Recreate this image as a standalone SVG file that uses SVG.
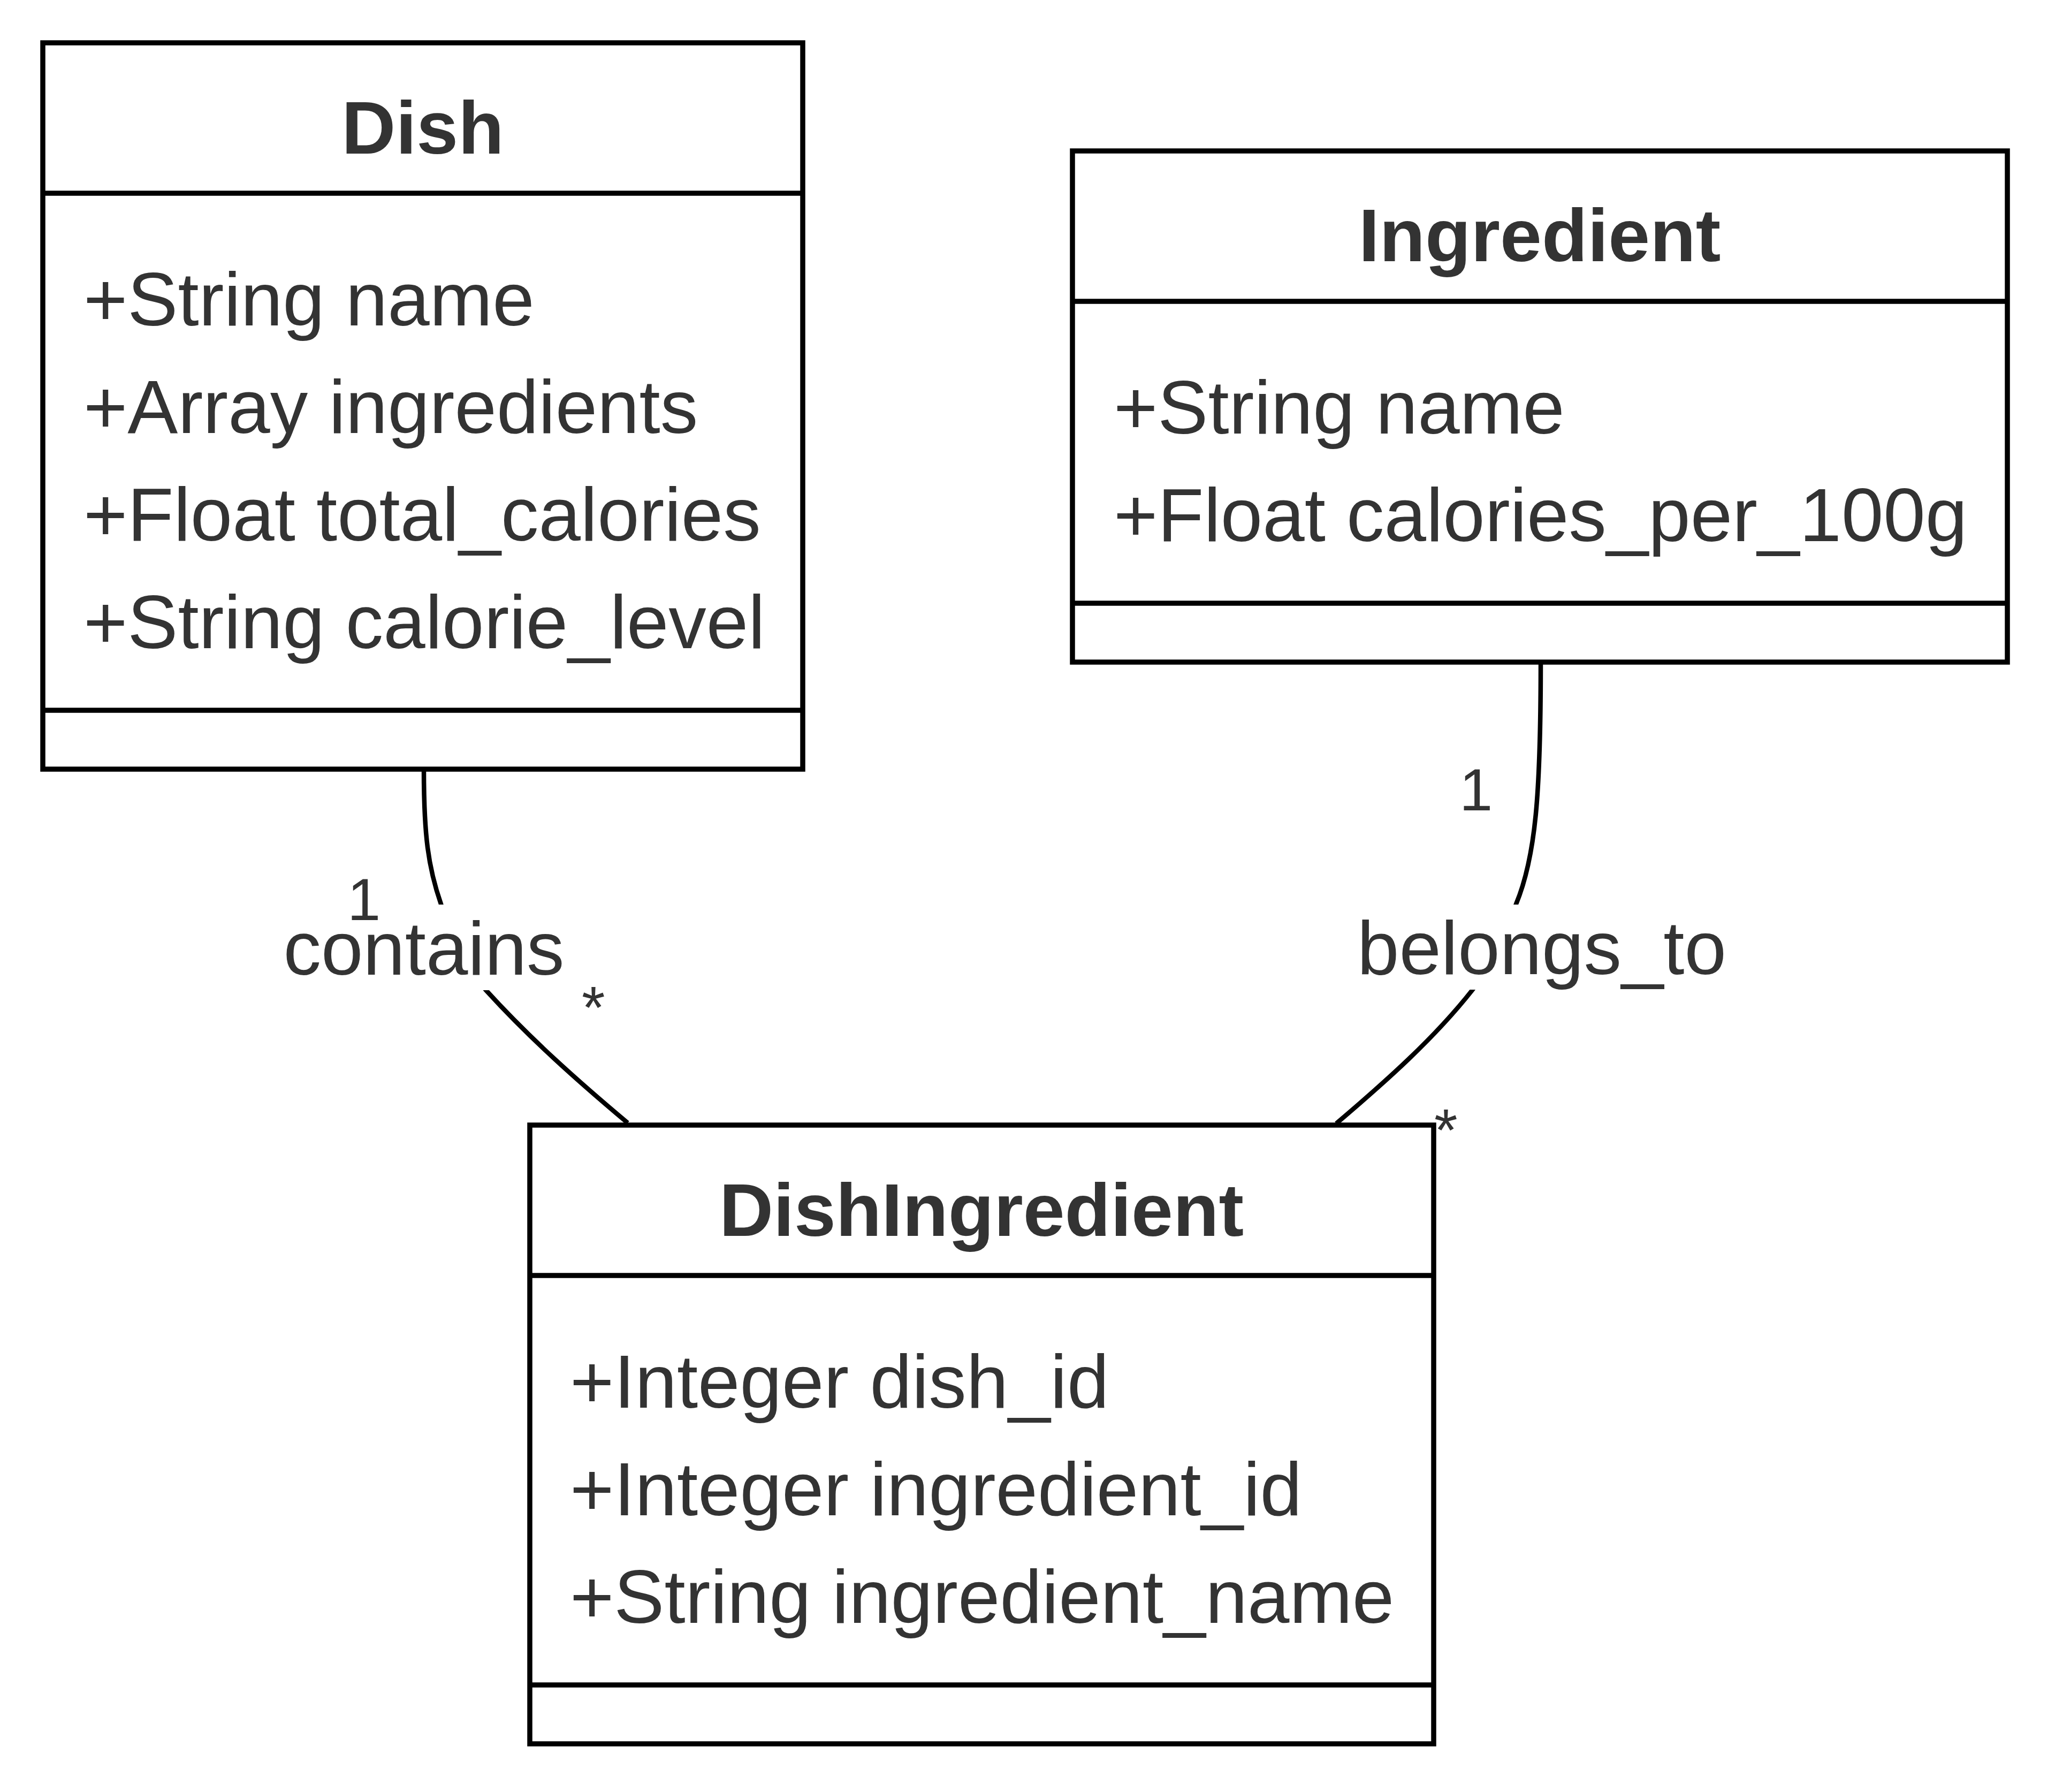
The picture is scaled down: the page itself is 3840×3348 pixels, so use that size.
<svg xmlns="http://www.w3.org/2000/svg" width="3840" height="3348" viewBox="0 0 3840 3348">
<style>
.box{fill:#ffffff;stroke:#000000;stroke-width:9.5}
.sep{stroke:#000000;stroke-width:9.5}
.title{font-family:"Liberation Sans",Arial,sans-serif;font-size:140px;font-weight:bold;fill:#333333;text-anchor:middle}
.attr{font-family:"Liberation Sans",Arial,sans-serif;font-size:141px;fill:#333333}
.edge{fill:none;stroke:#000000;stroke-width:8.5}
.elabel{font-family:"Liberation Sans",Arial,sans-serif;font-size:141px;fill:#333333;text-anchor:middle}
.card{font-family:"Liberation Sans",Arial,sans-serif;font-size:112px;fill:#333333}
.lblbg{fill:#ffffff}
</style>
<rect width="3840" height="3348" fill="#ffffff"/>
<g id="connectors">
  <path class="edge" d="M792,1437 C792,1560 800,1620 824,1689 C850,1770 870,1810 909,1851 C990,1940 1080,2020 1173,2098"/>
  <path class="edge" d="M2879,1237 C2879,1480 2870,1600 2833,1689 C2810,1750 2790,1800 2751,1850 C2680,1940 2590,2020 2497,2099"/>
  <rect class="lblbg" x="530" y="1690" width="524" height="160"/>
  <text class="elabel" x="792" y="1821">contains</text>
  <rect class="lblbg" x="2536" y="1690" width="692" height="159"/>
  <text class="elabel" x="2881" y="1820">belongs_to</text>
  <text class="card" x="649" y="1719">1</text>
  <text class="card" x="1087" y="1921">*</text>
  <text class="card" x="2727" y="1514">1</text>
  <text class="card" x="2680" y="2150">*</text>
</g>
<g id="Dish">
  <rect class="box" x="80" y="80" width="1420" height="1357"/>
  <line class="sep" x1="80" y1="361" x2="1500" y2="361"/>
  <line class="sep" x1="80" y1="1327" x2="1500" y2="1327"/>
  <text class="title" x="790" y="287">Dish</text>
  <text class="attr" x="156" y="608">+String name</text>
  <text class="attr" x="156" y="809">+Array ingredients</text>
  <text class="attr" x="156" y="1010">+Float total_calories</text>
  <text class="attr" x="156" y="1211">+String calorie_level</text>
</g>
<g id="Ingredient">
  <rect class="box" x="2004" y="282" width="1747" height="955"/>
  <line class="sep" x1="2004" y1="563" x2="3751" y2="563"/>
  <line class="sep" x1="2004" y1="1127" x2="3751" y2="1127"/>
  <text class="title" x="2877" y="488">Ingredient</text>
  <text class="attr" x="2081" y="810">+String name</text>
  <text class="attr" x="2081" y="1011">+Float calories_per_100g</text>
</g>
<g id="DishIngredient">
  <rect class="box" x="990" y="2102" width="1689" height="1156"/>
  <line class="sep" x1="990" y1="2383" x2="2679" y2="2383"/>
  <line class="sep" x1="990" y1="3148" x2="2679" y2="3148"/>
  <text class="title" x="1834" y="2309">DishIngredient</text>
  <text class="attr" x="1065" y="2630">+Integer dish_id</text>
  <text class="attr" x="1065" y="2831">+Integer ingredient_id</text>
  <text class="attr" x="1065" y="3032">+String ingredient_name</text>
</g>
</svg>
